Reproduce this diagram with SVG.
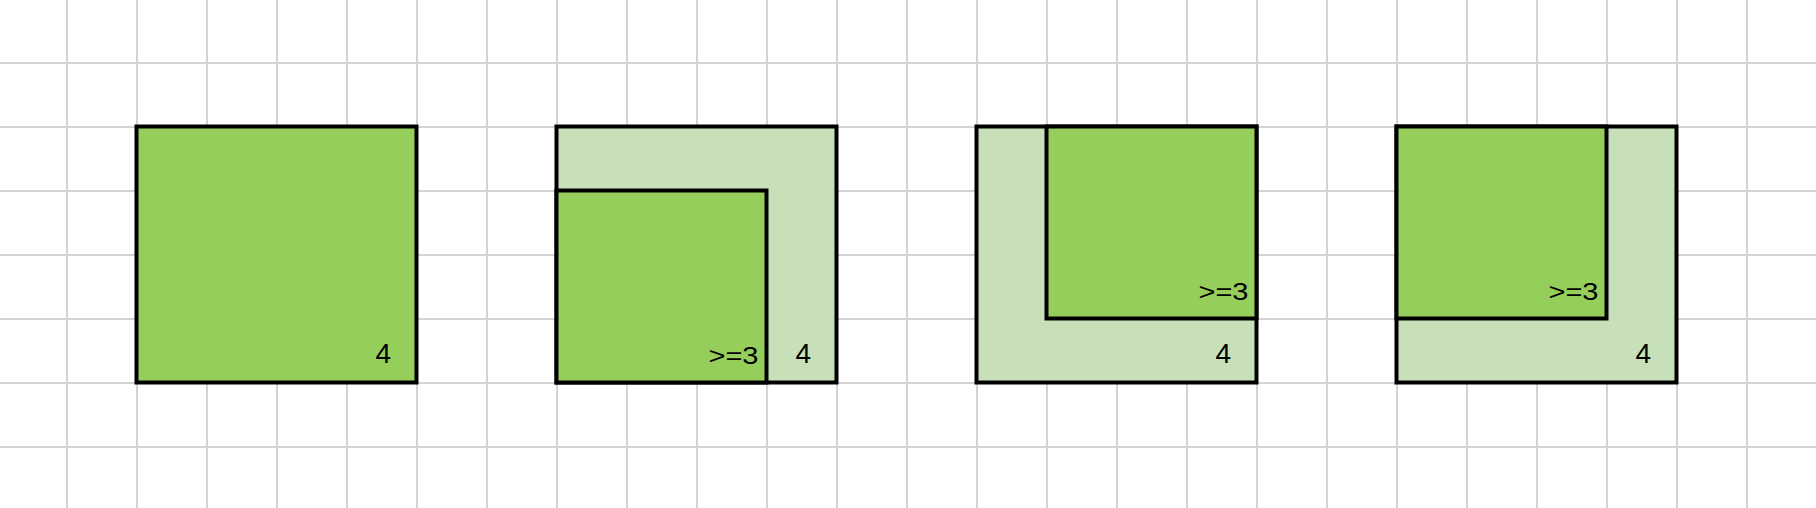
<svg xmlns="http://www.w3.org/2000/svg" width="1816" height="508" viewBox="0 0 1816 508">
<style>
.grid line{stroke:#d3d3d3;stroke-width:2}
.dark{fill:#95ce5b;stroke:#000;stroke-width:4}
.light{fill:#c8e0ba;stroke:#000;stroke-width:4}
text{font-family:"Liberation Sans",Arial,sans-serif;fill:#000;text-anchor:end}
.n{font-size:28px}
.ge{font-size:24px}
</style>
<rect width="1816" height="508" fill="#fff"/>
<g class="grid" id="grid">
<line x1="67" y1="0" x2="67" y2="508"/><line x1="137" y1="0" x2="137" y2="508"/><line x1="207" y1="0" x2="207" y2="508"/><line x1="277" y1="0" x2="277" y2="508"/><line x1="347" y1="0" x2="347" y2="508"/><line x1="417" y1="0" x2="417" y2="508"/><line x1="487" y1="0" x2="487" y2="508"/><line x1="557" y1="0" x2="557" y2="508"/><line x1="627" y1="0" x2="627" y2="508"/><line x1="697" y1="0" x2="697" y2="508"/><line x1="767" y1="0" x2="767" y2="508"/><line x1="837" y1="0" x2="837" y2="508"/><line x1="907" y1="0" x2="907" y2="508"/><line x1="977" y1="0" x2="977" y2="508"/><line x1="1047" y1="0" x2="1047" y2="508"/><line x1="1117" y1="0" x2="1117" y2="508"/><line x1="1187" y1="0" x2="1187" y2="508"/><line x1="1257" y1="0" x2="1257" y2="508"/><line x1="1327" y1="0" x2="1327" y2="508"/><line x1="1397" y1="0" x2="1397" y2="508"/><line x1="1467" y1="0" x2="1467" y2="508"/><line x1="1537" y1="0" x2="1537" y2="508"/><line x1="1607" y1="0" x2="1607" y2="508"/><line x1="1677" y1="0" x2="1677" y2="508"/><line x1="1747" y1="0" x2="1747" y2="508"/>
<line x1="0" y1="63" x2="1816" y2="63"/><line x1="0" y1="127" x2="1816" y2="127"/><line x1="0" y1="191" x2="1816" y2="191"/><line x1="0" y1="255" x2="1816" y2="255"/><line x1="0" y1="319" x2="1816" y2="319"/><line x1="0" y1="383" x2="1816" y2="383"/><line x1="0" y1="447" x2="1816" y2="447"/>
</g>
<g id="box1">
<rect class="dark" x="136.5" y="126.5" width="280" height="256"/>
<text class="n" x="391" y="363">4</text>
</g>
<g id="box2">
<rect class="light" x="556.5" y="126.5" width="280" height="256"/>
<rect class="dark" x="556.5" y="190.5" width="210" height="192"/>
<text class="ge" x="758.5" y="363.5" textLength="50" lengthAdjust="spacingAndGlyphs">&gt;=3</text>
<text class="n" x="811" y="363">4</text>
</g>
<g id="box3">
<rect class="light" x="976.5" y="126.5" width="280" height="256"/>
<rect class="dark" x="1046.5" y="126.5" width="210" height="192"/>
<text class="ge" x="1248.5" y="299.5" textLength="50" lengthAdjust="spacingAndGlyphs">&gt;=3</text>
<text class="n" x="1231" y="363">4</text>
</g>
<g id="box4">
<rect class="light" x="1396.5" y="126.5" width="280" height="256"/>
<rect class="dark" x="1396.5" y="126.5" width="210" height="192"/>
<text class="ge" x="1598.5" y="299.5" textLength="50" lengthAdjust="spacingAndGlyphs">&gt;=3</text>
<text class="n" x="1651" y="363">4</text>
</g>
</svg>
